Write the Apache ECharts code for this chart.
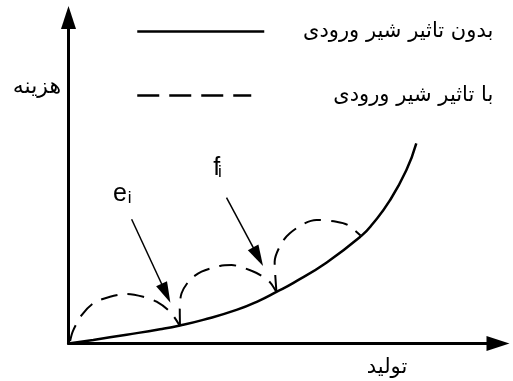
<!DOCTYPE html>
<html>
<head>
<meta charset="utf-8">
<script src="https://cdn.jsdelivr.net/npm/echarts@6/dist/echarts.min.js"></script>
<style>
  html, body { margin: 0; padding: 0; background: #fff; }
  #main { width: 513px; height: 381px; }
</style>
</head>
<body>
<div id="main"></div>
<script>
// منحنی هزینه بدون تاثیر شیر ورودی (واحد دلخواه، 1 واحد ~ 4px)
const baseCurve = [[0, 0], [6.2, 0.9], [14.55, 2.2], [22.9, 3.55], [27.9, 4.5], [33.7, 5.9],
  [42.05, 8.4], [47.9, 10.8], [52.05, 12.9], [56.2, 15.1], [64.55, 20.2], [73.3, 26.9],
  [76.2, 30.0], [80.4, 35.7], [84.55, 43.3], [87.05, 50.05]];

// کمان‌های خط‌چین (با تاثیر شیر ورودی)
const arc1 = [[0.4, 0.6], [1.1, 3.1], [3.3, 7.1], [6.2, 10.05], [10.4, 11.7], [14.55, 12.4],
  [18.7, 11.7], [22.05, 10.45], [25.4, 7.95], [27.7, 4.7]];
const arc2 = [[27.9, 4.5], [27.85, 8.4], [28.3, 12.55], [30.4, 15.9], [33.3, 17.95], [37.9, 19.4],
  [40.8, 19.6], [45.8, 18.2], [48.7, 16.7], [50.6, 15.1], [51.9, 13.1]];
const arc3 = [[52.05, 12.9], [51.75, 17.1], [51.6, 20.45], [53.3, 25.05], [55.4, 27.55], [59.1, 30.05],
  [62.05, 30.9], [67.05, 30.45], [69.95, 29.6], [73.1, 27]];

const seriesNames = ['بدون تاثیر شیر ورودی', 'با تاثیر شیر ورودی'];
const axisNames = ['تولید', 'هزینه'];

// e_i و f_i
const pointerLabels = ['e', 'f'];
const labelPos = [[12.9, 37.3], [37.1, 43.9]];
const subLabelPos = [[15.3, 36.4], [37.9, 42.7]];
const pointerFrom = [[15.8, 31.05], [39.55, 36.45]];
const pointerTo = [[24.4, 12.55], [47.45, 21.7]];

const xMax = 107.5;
const yMax = 81.5;
const persianFont = 'DejaVu Sans';
const persianSize = 21;

function textWidth(txt) {
  const ctx = document.createElement('canvas').getContext('2d');
  ctx.font = persianSize + 'px "' + persianFont + '"';
  return ctx.measureText(txt).width;
}

const chart = echarts.init(document.getElementById('main'));

const dashedSeries = [arc1, arc2, arc3].map(function (arc) {
  return {
    name: seriesNames[1],
    type: 'line',
    smooth: 0.3,
    symbol: 'none',
    silent: true,
    itemStyle: { color: '#000' },
    lineStyle: { color: '#000', width: 2, type: [17, 10] },
    data: arc
  };
});

function legendFor(name, top, itemWidth, lineStyle) {
  const textStart = 131 + itemWidth + 5;
  const pad = Math.max(0, 487 - textWidth(name) - textStart);
  return {
    data: [name],
    left: 131, top: top,
    itemWidth: itemWidth, itemHeight: 6,
    selectedMode: false,
    itemStyle: { color: 'rgba(0,0,0,0)', borderColor: 'rgba(0,0,0,0)', borderWidth: 0 },
    lineStyle: lineStyle,
    textStyle: { color: '#000', fontFamily: persianFont, fontSize: persianSize, padding: [0, 0, 0, pad] }
  };
}

function letterPoint(coord, text, size) {
  return {
    coord: coord,
    symbol: 'circle',
    symbolSize: 0,
    label: {
      show: true, position: 'inside', formatter: text,
      color: '#000', textBorderWidth: 0, fontFamily: 'Liberation Sans', fontSize: size
    }
  };
}

const option = {
  animation: false,
  backgroundColor: '#fff',
  grid: { left: 68.5, right: 15, top: 17.5, bottom: 37.5 },
  legend: [
    legendFor(seriesNames[0], 16, 127, { color: '#000', width: 2.5, type: 'solid' }),
    legendFor(seriesNames[1], 80, 114, { color: '#000', width: 2.5, type: [22, 10] })
  ],
  xAxis: {
    type: 'value', min: 0, max: xMax,
    axisLine: { show: true, symbol: ['none', 'triangle'], symbolSize: [15, 23], lineStyle: { color: '#000', width: 3 } },
    axisTick: { show: false }, axisLabel: { show: false }, splitLine: { show: false }
  },
  yAxis: {
    type: 'value', min: 0, max: yMax,
    axisLine: { show: true, symbol: ['none', 'triangle'], symbolSize: [15, 23], lineStyle: { color: '#000', width: 3 } },
    axisTick: { show: false }, axisLabel: { show: false }, splitLine: { show: false }
  },
  graphic: [
    { type: 'text', x: 61, y: 87, style: { text: axisNames[1], fontFamily: persianFont, fontSize: 22, fill: '#000', align: 'right', verticalAlign: 'middle' } },
    { type: 'text', x: 387, y: 368, style: { text: axisNames[0], fontFamily: persianFont, fontSize: 21, fill: '#000', align: 'center', verticalAlign: 'middle' } }
  ],
  series: [
    {
      name: seriesNames[0],
      type: 'line',
      smooth: 0.5,
      symbol: 'none',
      silent: true,
      itemStyle: { color: '#000' },
      lineStyle: { color: '#000', width: 2.5 },
      data: baseCurve,
      markLine: {
        silent: true,
        symbol: ['none', 'triangle'],
        label: { show: false },
        lineStyle: { color: '#000', width: 1.5, type: 'solid' },
        data: pointerFrom.map(function (p, i) {
          return [{ coord: p, symbol: 'none' }, { coord: pointerTo[i], symbol: 'triangle', symbolSize: [12, 21] }];
        })
      },
      markPoint: {
        silent: true,
        itemStyle: { color: '#000', opacity: 1 },
        data: labelPos.map(function (p, i) { return letterPoint(p, pointerLabels[i], 25); })
          .concat(subLabelPos.map(function (p) { return letterPoint(p, 'i', 17); }))
      }
    }
  ].concat(dashedSeries)
};

chart.setOption(option);
</script>
</body>
</html>
